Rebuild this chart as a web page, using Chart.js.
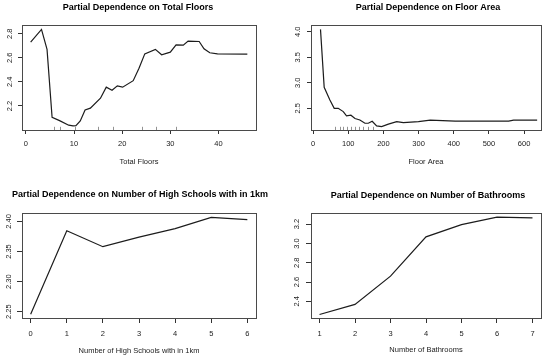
<!DOCTYPE html>
<html>
<head>
<meta charset="utf-8">
<script src="https://cdn.jsdelivr.net/npm/chart.js@4/dist/chart.umd.min.js"></script>
<style>
  html, body { margin: 0; padding: 0; background: #fff; }
  body { width: 550px; height: 359px; position: relative; overflow: hidden; }
  canvas { position: absolute; }
</style>
</head>
<body>
<canvas id="c1" width="275" height="180" style="left:0px;top:0px;"></canvas>
<canvas id="c2" width="275" height="180" style="left:275px;top:0px;"></canvas>
<canvas id="c3" width="275" height="179" style="left:0px;top:180px;"></canvas>
<canvas id="c4" width="275" height="179" style="left:275px;top:180px;"></canvas>
<script>
// ---- Panel 1: Total Floors ----
const floorsX = [1, 3.25, 4.4, 5.45, 7.0, 8.9, 9.8, 10.4, 11.3, 12.3, 13.4, 15.5, 16.7, 17.9, 19, 20.1, 22.3, 23.5, 24.7, 26.9, 28.2, 30, 31.2, 32.7, 33.7, 36, 37, 38.2, 39.8, 46];
const floorsY = [2.73, 2.836, 2.67, 2.106, 2.078, 2.04, 2.034, 2.036, 2.075, 2.167, 2.182, 2.264, 2.356, 2.33, 2.367, 2.356, 2.41, 2.514, 2.633, 2.67, 2.625, 2.647, 2.708, 2.705, 2.739, 2.736, 2.675, 2.642, 2.633, 2.631];
const floorsRug = [5.9, 7, 10.2, 15, 18.1, 24.2, 27, 31.1];
const floorsXTicks = [0, 10, 20, 30, 40];
const floorsYTicks = [2.2, 2.4, 2.6, 2.8];

// ---- Panel 2: Floor Area ----
const areaX = [21, 31.5, 47.7, 60, 71.4, 85.7, 95, 107.5, 119, 133, 147.4, 157, 168, 180.6, 194.8, 214, 237.7, 256.7, 299.5, 333, 404, 556, 570, 637];
const areaY = [4.046, 2.912, 2.663, 2.5, 2.5, 2.435, 2.35, 2.364, 2.30, 2.272, 2.207, 2.207, 2.246, 2.155, 2.14, 2.19, 2.24, 2.22, 2.24, 2.27, 2.25, 2.25, 2.27, 2.27];
const areaRug = [63, 76, 85, 96, 107, 120, 131, 143, 155, 170];
const areaXTicks = [0, 100, 200, 300, 400, 500, 600];
const areaYTicks = [2.5, 3.0, 3.5, 4.0];

// ---- Panel 3: High Schools within 1km ----
const schoolsX = [0, 1, 2, 3, 4, 5, 6];
const schoolsY = [2.2457, 2.3845, 2.358, 2.374, 2.388, 2.4067, 2.403];
const schoolsXTicks = [0, 1, 2, 3, 4, 5, 6];
const schoolsYTicks = [2.25, 2.30, 2.35, 2.40];

// ---- Panel 4: Bathrooms ----
const bathX = [1, 2, 3, 4, 5, 6, 7];
const bathY = [2.264, 2.369, 2.661, 3.068, 3.195, 3.273, 3.265];
const bathXTicks = [1, 2, 3, 4, 5, 6, 7];
const bathYTicks = [2.4, 2.6, 2.8, 3.0, 3.2];

const FONT = "'Liberation Sans', Arial, Helvetica, sans-serif";
const INK = '#222';

const rPlot = {
  id: 'rplot',
  afterDatasetsDraw(chart, args, o) {
    const ctx = chart.ctx, a = chart.chartArea;
    ctx.save();
    // box around plot region
    ctx.strokeStyle = '#4a4a4a';
    ctx.lineWidth = 1;
    ctx.strokeRect(Math.round(a.left) + 0.5, Math.round(a.top) + 0.5,
                   Math.round(a.right - a.left), Math.round(a.bottom - a.top));
    // rug (deciles)
    if (o.rug) {
      const xs = chart.scales.x;
      ctx.strokeStyle = '#777';
      ctx.lineWidth = 0.8;
      o.rug.forEach(v => {
        const px = Math.round(xs.getPixelForValue(v)) + 0.5;
        ctx.beginPath();
        ctx.moveTo(px, a.bottom);
        ctx.lineTo(px, a.bottom - 3.2);
        ctx.stroke();
      });
    }
    // main title
    ctx.fillStyle = '#000';
    ctx.font = "bold 9px " + FONT;
    ctx.textAlign = 'center';
    ctx.textBaseline = 'middle';
    ctx.fillText(o.title, o.titleX, o.titleY);
    ctx.restore();
  }
};

function makeChart(id, c) {
  const pts = c.xs.map((x, i) => ({ x: x, y: c.ys[i] }));
  return new Chart(document.getElementById(id), {
    type: 'line',
    data: { datasets: [{ data: pts, borderColor: '#1c1c1c', borderWidth: 1.2, pointRadius: 0, tension: 0, fill: false }] },
    plugins: [rPlot],
    options: {
      responsive: false, animation: false, events: [],
      layout: { padding: { left: 0, top: c.area.t, right: c.W - c.area.r, bottom: 0 } },
      plugins: {
        legend: { display: false }, tooltip: { enabled: false }, title: { display: false },
        rplot: { title: c.title, titleX: c.titleX, titleY: c.titleY, rug: c.rug }
      },
      scales: {
        x: {
          type: 'linear', min: c.xMin, max: c.xMax,
          afterBuildTicks: s => { s.ticks = c.xTicks.map(v => ({ value: v })); },
          afterFit: s => { s.height = c.H - c.area.b; },
          grid: { drawOnChartArea: false, drawTicks: true, tickLength: c.tl, tickColor: '#333', tickWidth: 1 },
          border: { display: false },
          ticks: { autoSkip: false, minRotation: 0, maxRotation: 0, padding: c.xPad, color: INK,
                   font: { family: FONT, size: 7.5 }, callback: v => String(v) },
          title: { display: true, text: c.xLabel, color: INK, font: { family: FONT, size: 7.5 },
                   padding: { top: 0, bottom: c.xTitlePad } }
        },
        y: {
          type: 'linear', min: c.yMin, max: c.yMax,
          afterBuildTicks: s => { s.ticks = c.yTicks.map(v => ({ value: v })); },
          afterFit: s => { s.width = c.area.l; },
          grid: { drawOnChartArea: false, drawTicks: true, tickLength: c.tl, tickColor: '#333', tickWidth: 1 },
          border: { display: false },
          ticks: { autoSkip: false, minRotation: 90, maxRotation: 90, crossAlign: 'center', padding: c.yPad,
                   color: INK, font: { family: FONT, size: 7.5 }, callback: v => v.toFixed(c.yDec) }
        }
      }
    }
  });
}

makeChart('c1', {
  W: 275, H: 180, area: { l: 22, r: 256, t: 25, b: 130 }, tl: 4,
  xs: floorsX, ys: floorsY, rug: floorsRug, xTicks: floorsXTicks, yTicks: floorsYTicks,
  xMin: -0.8, xMax: 47.8, yMin: 2.0, yMax: 2.873, yDec: 1,
  title: 'Partial Dependence on Total Floors', titleX: 138, titleY: 7.5,
  xLabel: 'Total Floors', xPad: 5.5, xTitlePad: 13.2, yPad: 3.3
});
makeChart('c2', {
  W: 275, H: 180, area: { l: 36, r: 266, t: 25, b: 130 }, tl: 4,
  xs: areaX, ys: areaY, rug: areaRug, xTicks: areaXTicks, yTicks: areaYTicks,
  xMin: -6, xMax: 648, yMin: 2.075, yMax: 4.131, yDec: 1,
  title: 'Partial Dependence on Floor Area', titleX: 153, titleY: 7.5,
  xLabel: 'Floor Area', xPad: 5.5, xTitlePad: 13.2, yPad: 3.5
});
makeChart('c3', {
  W: 275, H: 179, area: { l: 22, r: 256, t: 33, b: 138 }, tl: 5,
  xs: schoolsX, ys: schoolsY, rug: null, xTicks: schoolsXTicks, yTicks: schoolsYTicks,
  xMin: -0.24, xMax: 6.24, yMin: 2.2395, yMax: 2.414, yDec: 2,
  title: 'Partial Dependence on Number of High Schools with in 1km', titleX: 140, titleY: 15,
  xLabel: 'Number of High Schools with in 1km', xPad: 6.5, xTitlePad: 3.8, yPad: 1.2
});
makeChart('c4', {
  W: 275, H: 179, area: { l: 36, r: 266, t: 33, b: 138 }, tl: 5,
  xs: bathX, ys: bathY, rug: null, xTicks: bathXTicks, yTicks: bathYTicks,
  xMin: 0.76, xMax: 7.24, yMin: 2.228, yMax: 3.315, yDec: 1,
  title: 'Partial Dependence on Number of Bathrooms', titleX: 153, titleY: 15.7,
  xLabel: 'Number of Bathrooms', xPad: 6.5, xTitlePad: 4.5, yPad: 3.5
});
</script>
</body>
</html>
